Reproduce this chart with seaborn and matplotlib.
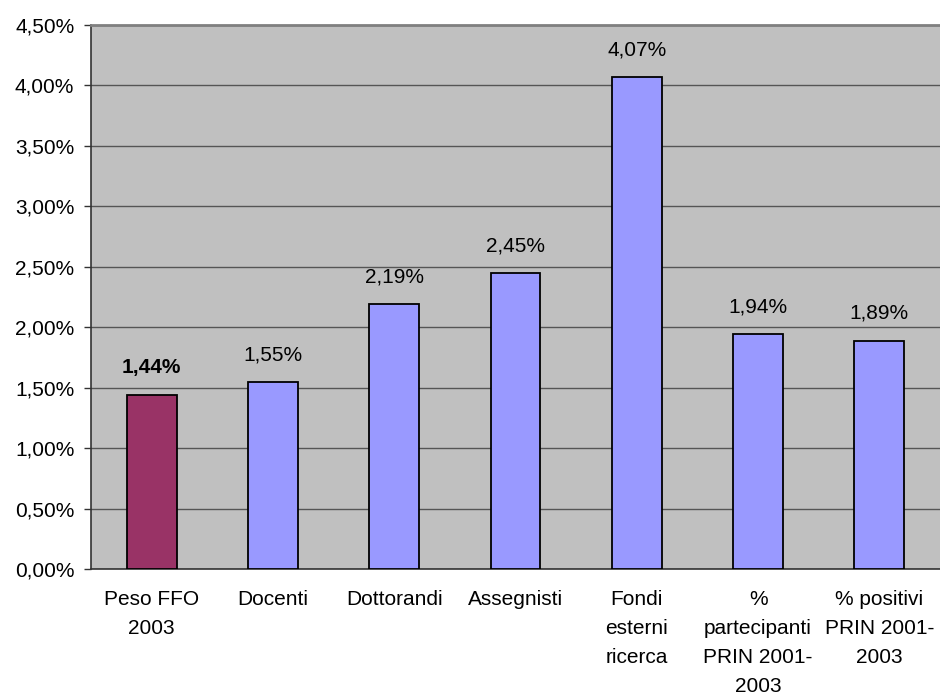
import matplotlib
matplotlib.use("Agg")
import matplotlib.pyplot as plt
import seaborn as sns
import pandas as pd
from matplotlib.ticker import MultipleLocator, FuncFormatter, FixedLocator

categories = [
    "Peso FFO\n2003",
    "Docenti",
    "Dottorandi",
    "Assegnisti",
    "Fondi\nesterni\nricerca",
    "%\npartecipanti\nPRIN 2001-\n2003",
    "% positivi\nPRIN 2001-\n2003",
]
values = [1.44, 1.55, 2.19, 2.45, 4.07, 1.94, 1.89]
bar_colors = ["#993366", "#9999FF", "#9999FF", "#9999FF", "#9999FF", "#9999FF", "#9999FF"]

df = pd.DataFrame({"categoria": categories, "valore": values})

sns.set_theme(style="white")
plt.rcParams["font.family"] = ["Liberation Sans", "DejaVu Sans"]

FS = 15

fig = plt.figure(figsize=(9.4, 7.0), dpi=100)
ax = fig.add_axes([91 / 940, 1 - 569 / 700, 1 - 91 / 940, (569 - 25) / 700])
ax.set_facecolor("#C0C0C0")

sns.barplot(data=df, x="categoria", y="valore", hue="categoria",
            palette=bar_colors, saturation=1, legend=False, width=0.41,
            edgecolor="black", linewidth=1.3, ax=ax, zorder=3)

ax.set_ylim(0, 4.5)
ax.set_xlim(-0.5, len(categories) - 0.5)
ax.yaxis.set_major_locator(MultipleLocator(0.5))
ax.yaxis.set_major_formatter(FuncFormatter(lambda v, _: f"{v:.2f}%".replace(".", ",")))
ax.grid(axis="y", color="#555555", linewidth=1.0, zorder=1)
ax.set_axisbelow(True)

# category labels centred under bars, tick marks on category boundaries
ax.set_xticks(range(len(categories)))
ax.set_xticklabels(categories, fontsize=FS, color="black", linespacing=1.66, va="top")
ax.tick_params(axis="x", which="major", length=0, pad=15)
ax.xaxis.set_minor_locator(FixedLocator([i - 0.5 for i in range(len(categories))]))
ax.tick_params(axis="x", which="minor", length=5, width=1, color="#333333", direction="out")
ax.tick_params(axis="y", labelsize=FS, labelcolor="black", length=5, width=1,
               color="#333333", direction="out", left=True, pad=7)

ax.set_xlabel("")
ax.set_ylabel("")

for side in ["left", "bottom"]:
    ax.spines[side].set_color("#333333")
    ax.spines[side].set_linewidth(1.2)
ax.spines["top"].set_color("#808080")
ax.spines["top"].set_linewidth(2)
ax.spines["right"].set_visible(False)

for i, v in enumerate(values):
    ax.annotate(f"{v:.2f}%".replace(".", ","), xy=(i, v), xytext=(0, 19.5),
                textcoords="offset points", ha="center", va="center",
                fontsize=FS, color="black",
                fontweight="bold" if i == 0 else "normal")

fig.savefig("out.png", dpi=100)
